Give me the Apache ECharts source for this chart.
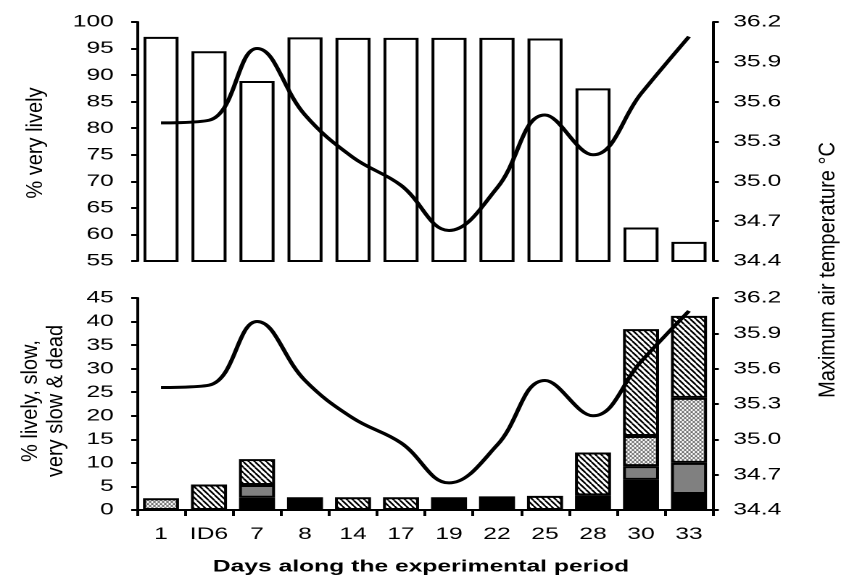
<!DOCTYPE html>
<html>
<head>
<meta charset="utf-8">
<title>Very lively and temperature</title>
<script src="https://cdn.jsdelivr.net/npm/echarts@6/dist/echarts.min.js"></script>
<style>
    html, body { margin: 0; padding: 0; background: #fff; overflow: hidden; }
    #main { height: 580px; transform-origin: 0 0; }
</style>
</head>
<body>
<div id="main"></div>
<script>
// categories (days)
var days = ['1', 'ID6', '7', '8', '14', '17', '19', '22', '25', '28', '30', '33'];
// top panel: % very lively
var veryLively = [97.2, 94.5, 88.9, 97.1, 97.0, 97.0, 97.0, 97.0, 96.9, 87.5, 61.3, 58.6];
// bottom panel, stacked from the bottom up
var dead = [null, null, 2.6, 2.7, null, null, 2.7, 2.9, null, 3.1, 6.4, 3.4];
var verySlow = [null, null, 2.7, null, null, null, null, null, null, null, 2.9, 6.6];
var slow = [2.5, null, null, null, null, null, null, null, null, null, 6.4, 13.8];
var lively = [null, 5.4, 5.5, null, 2.7, 2.7, null, null, 3.0, 9.1, 22.7, 17.4];
// maximum air temperature (same line in both panels)
var maxTemp = [35.44, 35.46, 36.0, 35.5, 35.18, 34.97, 34.63, 34.95, 35.5, 35.2, 35.66, 36.09];
// axis ranges
var pctTopRange = [55, 100, 5];
var pctBottomRange = [0, 45, 5];
var tempRange = [34.4, 36.2, 0.3];

// the original picture is stretched sideways, so the chart is drawn narrower and widened with css
var STRETCH = 1.45;
var W = Math.round(845 / STRETCH);
function sx(v) { return v / STRETCH; }
var FONT = "'Liberation Sans', Arial, sans-serif";

var dom = document.getElementById('main');
dom.style.width = W + 'px';
dom.style.transform = 'scaleX(' + STRETCH + ')';

function hatchTile() {
    var c = document.createElement('canvas');
    c.width = 8; c.height = 11;
    var ctx = c.getContext('2d');
    ctx.fillStyle = '#fff';
    ctx.fillRect(0, 0, 8, 11);
    ctx.strokeStyle = '#000';
    ctx.lineWidth = 2.8;
    [-8, 0, 8].forEach(function (k) {
        ctx.beginPath();
        ctx.moveTo(k, 0);
        ctx.lineTo(k + 8, 11);
        ctx.stroke();
    });
    return { image: c, repeat: 'repeat', scaleX: 0.5, scaleY: 0.5 };
}

function crossTile() {
    var c = document.createElement('canvas');
    c.width = 6; c.height = 8;
    var ctx = c.getContext('2d');
    ctx.fillStyle = '#fff';
    ctx.fillRect(0, 0, 6, 8);
    ctx.strokeStyle = '#6e6e6e';
    ctx.lineWidth = 1.4;
    [-6, 0, 6].forEach(function (k) {
        ctx.beginPath();
        ctx.moveTo(k, 0);
        ctx.lineTo(k + 6, 8);
        ctx.stroke();
        ctx.beginPath();
        ctx.moveTo(k + 6, 0);
        ctx.lineTo(k, 8);
        ctx.stroke();
    });
    return { image: c, repeat: 'repeat', scaleX: 0.5, scaleY: 0.5 };
}

var myChart = echarts.init(dom, null, { devicePixelRatio: 2 });

function valueAxis(grid, pos, range, margin, fmt) {
    return {
        type: 'value',
        gridIndex: grid,
        position: pos,
        min: range[0],
        max: range[1],
        interval: range[2],
        axisLine: { show: true, lineStyle: { color: '#000', width: 2 } },
        axisTick: { show: true, length: 4, lineStyle: { color: '#000', width: 2 } },
        axisLabel: { color: '#000', fontSize: 17, fontFamily: FONT, margin: margin, formatter: fmt },
        splitLine: { show: false }
    };
}
var tempFmt = function (v) { return v.toFixed(1); };

function stackBar(name, data, color) {
    return {
        name: name,
        type: 'bar',
        xAxisIndex: 1,
        yAxisIndex: 2,
        stack: 'all',
        barWidth: '75%',
        data: data,
        itemStyle: { color: color, borderColor: '#000', borderWidth: 2 }
    };
}

// rotated titles: squeeze back the sideways stretch a little
function rotText(text, x, y) {
    return {
        type: 'text',
        x: x,
        y: y,
        rotation: Math.PI / 2,
        scaleY: 1 / 1.25,
        style: {
            text: text,
            fill: '#000',
            fontSize: 20,
            lineHeight: 22,
            fontFamily: FONT,
            align: 'center',
            verticalAlign: 'middle'
        }
    };
}

var option = {
    animation: false,
    backgroundColor: '#fff',
    grid: [
        { left: sx(137), right: W - sx(713), top: 22, height: 239 },
        { left: sx(137), right: W - sx(713), top: 298, height: 212 }
    ],
    xAxis: [
        { type: 'category', gridIndex: 0, data: days, show: false },
        {
            type: 'category',
            gridIndex: 1,
            data: days,
            axisLine: { show: true, lineStyle: { color: '#000', width: 2 } },
            axisTick: { show: true, length: 6, lineStyle: { color: '#000', width: 2 } },
            axisLabel: { color: '#000', fontSize: 17, fontFamily: FONT, margin: 16, interval: 0 }
        }
    ],
    yAxis: [
        valueAxis(0, 'left', pctTopRange, 16),
        valueAxis(0, 'right', tempRange, 14, tempFmt),
        valueAxis(1, 'left', pctBottomRange, 16),
        valueAxis(1, 'right', tempRange, 14, tempFmt)
    ],
    graphic: [
        rotText('% very lively', sx(36), 143),
        rotText('% lively, slow,\nvery slow & dead', sx(43), 401),
        rotText('Maximum air temperature °C', sx(828), 270),
        {
            type: 'text',
            x: sx(421),
            y: 567,
            style: {
                text: 'Days along the experimental period',
                fill: '#000',
                fontSize: 17,
                fontWeight: 'bold',
                fontFamily: FONT,
                align: 'center',
                verticalAlign: 'middle'
            }
        }
    ],
    series: [
        {
            name: '% very lively',
            type: 'bar',
            xAxisIndex: 0,
            yAxisIndex: 0,
            barWidth: '73%',
            data: veryLively,
            itemStyle: { color: '#fff', borderColor: '#000', borderWidth: 2 }
        },
        {
            name: 'Maximum air temperature',
            type: 'line',
            xAxisIndex: 0,
            yAxisIndex: 1,
            data: maxTemp,
            smooth: 0.4,
            symbol: 'none',
            lineStyle: { color: '#000', width: 3 }
        },
        stackBar('dead', dead, '#000'),
        stackBar('very slow', verySlow, '#808080'),
        stackBar('slow', slow, crossTile()),
        stackBar('lively', lively, hatchTile()),
        {
            name: 'Maximum air temperature',
            type: 'line',
            xAxisIndex: 1,
            yAxisIndex: 3,
            data: maxTemp,
            smooth: 0.4,
            symbol: 'none',
            lineStyle: { color: '#000', width: 3 }
        }
    ]
};
myChart.setOption(option);
</script>
</body>
</html>
